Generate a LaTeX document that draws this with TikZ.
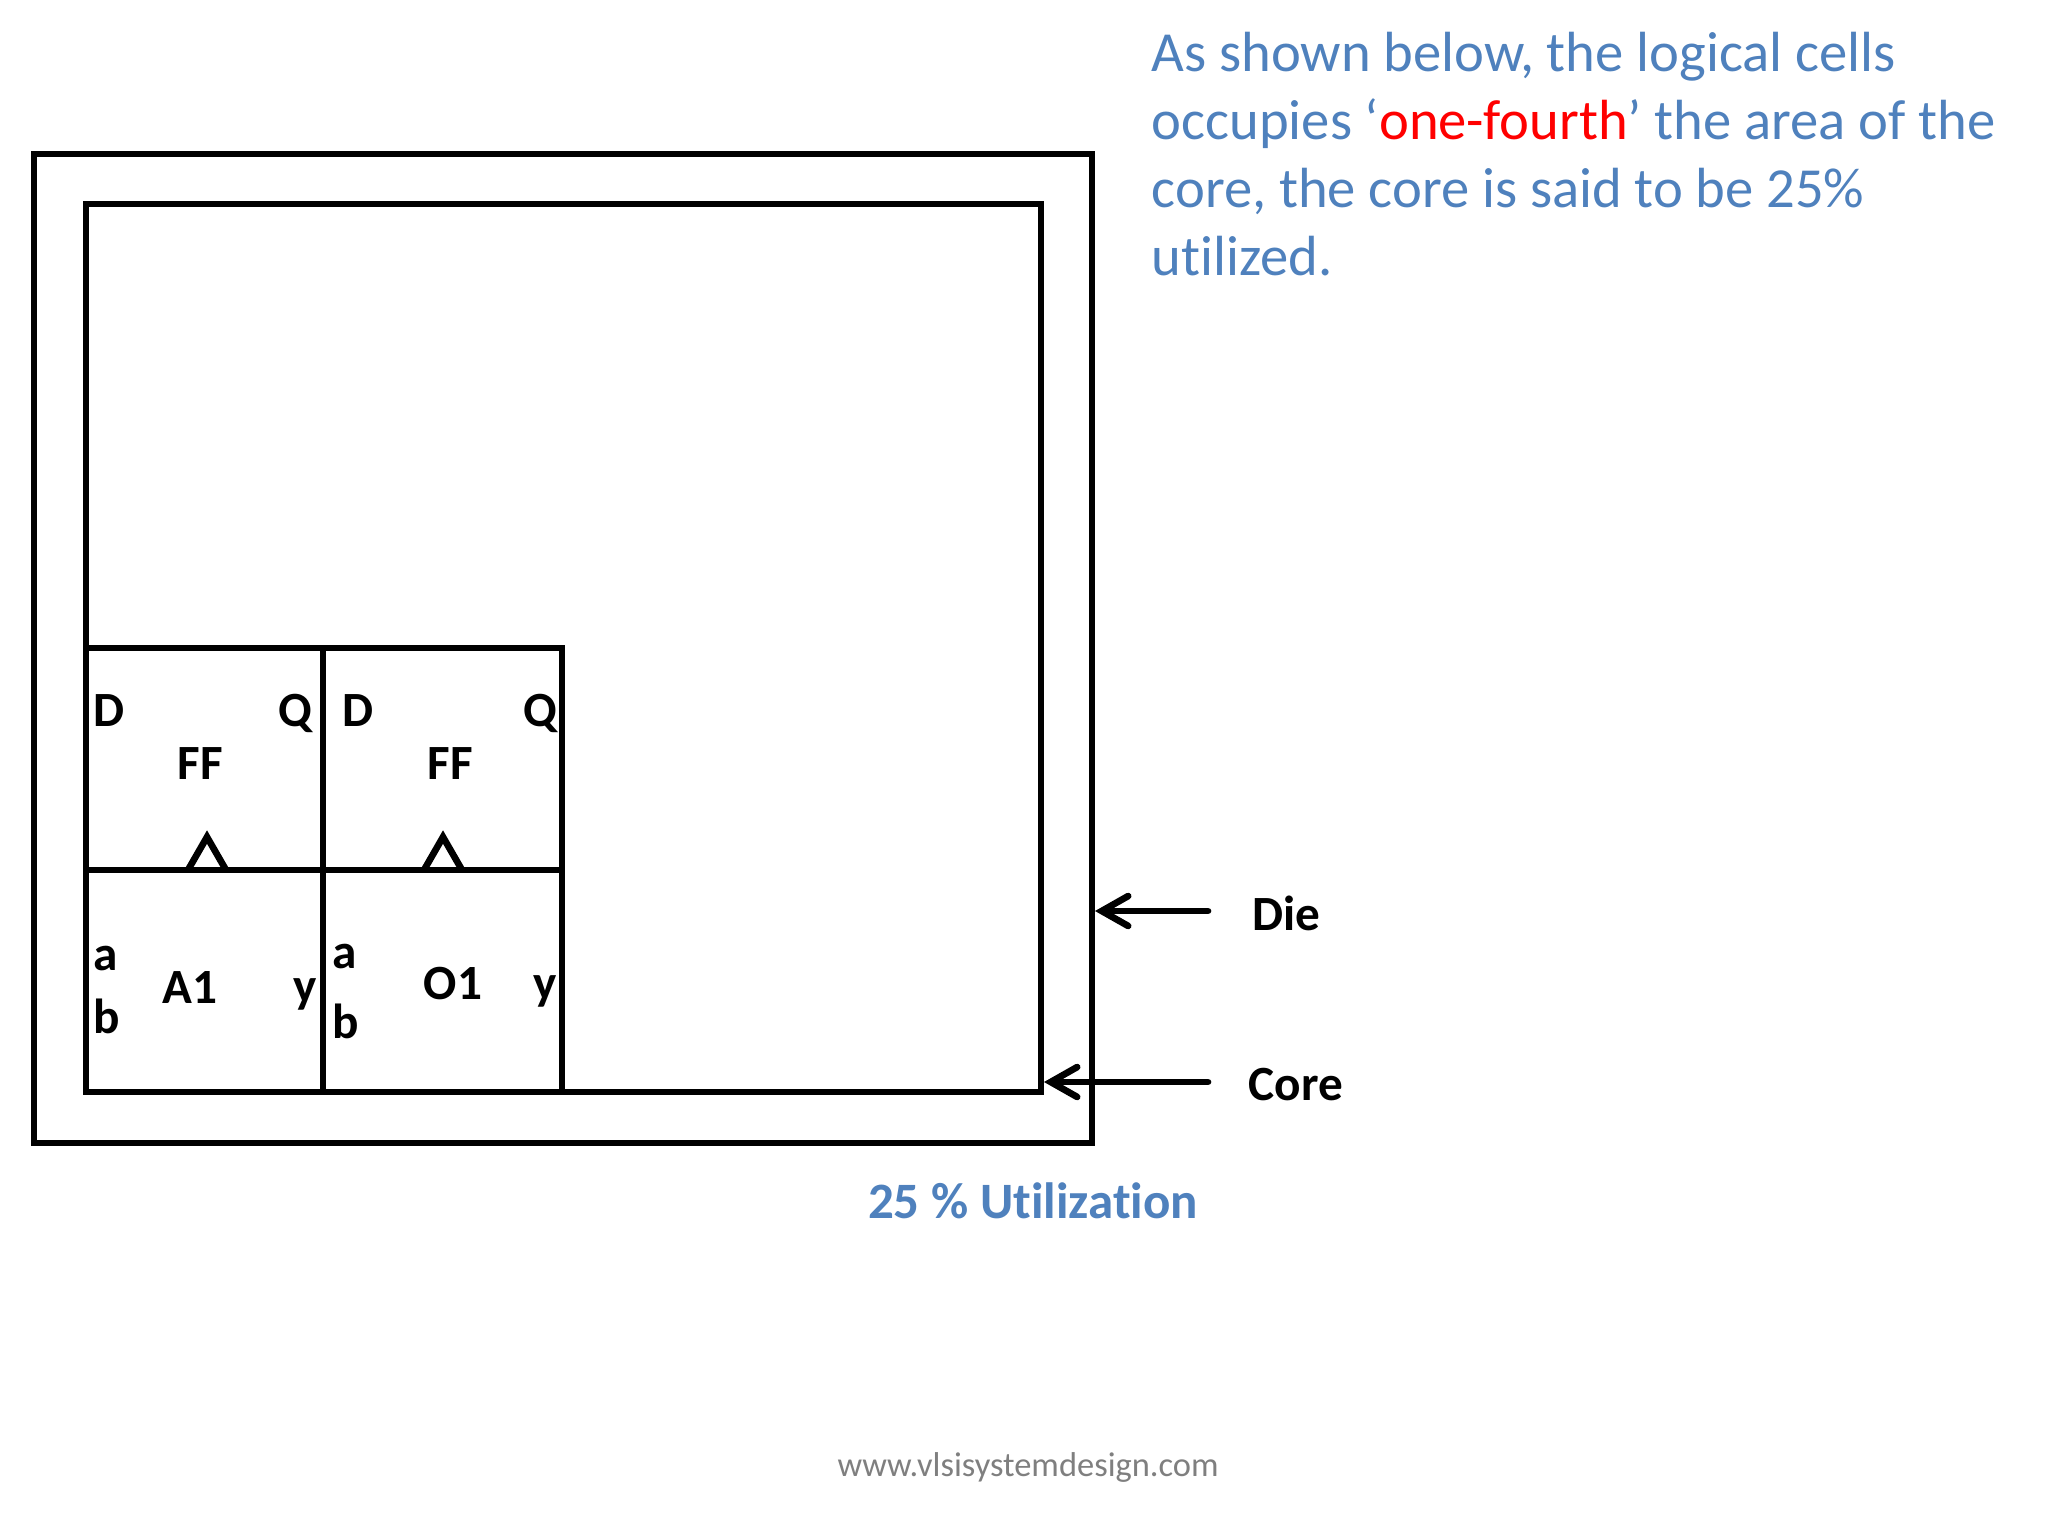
\documentclass[tikz,border=0pt]{standalone}
\usepackage{fontspec}
\setmainfont{Carlito}[RawFeature={-liga;-clig;-dlig;-calt}]
\usetikzlibrary{arrows.meta}
\definecolor{slideblue}{HTML}{4F81BD}
\definecolor{footgray}{HTML}{7F7F7F}
\tikzset{
  wall/.style={line width=1.9pt, line join=miter},
  pinlbl/.style={font=\fontsize{14}{16}\selectfont\bfseries, inner sep=0pt},
  pointer/.style={line width=1.9pt, line cap=round, -{Straight Barb[length=7.5pt,width=8.5pt,line cap=round]}},
}

\begin{document}
\begin{tikzpicture}[x=0.01cm,y=-0.01cm]
\useasboundingbox (0,0) rectangle (2048,1536);

% die and core
\draw[wall] (34,154) rectangle (1092,1143);
\draw[wall] (86,204) rectangle (1041,1092);

% cells
\draw[wall] (86,648) rectangle (323,870);
\draw[wall] (323,648) rectangle (562,870);
\draw[wall] (86,870) rectangle (323,1092);
\draw[wall] (323,870) rectangle (562,1092);
\draw[wall] (188,870) -- (207,837) -- (226,870);
\draw[wall] (424,870) -- (443,837) -- (462,870);

\node[pinlbl,anchor=base west] (d1) at (93,726) {D};
\node[pinlbl,anchor=base east] (q1) at (313,726) {Q};
\node[pinlbl,anchor=base] (ff1) at (200,779) {FF};
\node[pinlbl,anchor=base west] (d2) at (342,726) {D};
\node[pinlbl,anchor=base east] (q2) at (558,726) {Q};
\node[pinlbl,anchor=base] (ff2) at (450,779) {FF};

\node[pinlbl,anchor=base west] (a1in) at (93,970) {a};
\node[pinlbl,anchor=base west] (b1in) at (93,1033) {b};
\node[pinlbl,anchor=base] (and1) at (190,1003) {A1};
\node[pinlbl,anchor=base east] (y1out) at (318,1002) {y};
\node[pinlbl,anchor=base west] (a2in) at (332,968) {a};
\node[pinlbl,anchor=base west] (b2in) at (332,1038) {b};
\node[pinlbl,anchor=base] (or1) at (453,999) {O1};
\node[pinlbl,anchor=base east] (y2out) at (558,999) {y};

% die / core pointers
\node[pinlbl,anchor=base west] (die) at (1252,930) {Die};
\node[pinlbl,anchor=base west] (core) at (1248,1100) {Core};
\coordinate (dietail) at (1208,911);
\coordinate (diehead) at (1095,911);
\coordinate (coretail) at (1208,1082);
\coordinate (corehead) at (1044,1082);
\draw[pointer] (dietail) -- (diehead);
\draw[pointer] (coretail) -- (corehead);

% captions
\node[font=\fontsize{14.5}{17}\selectfont\bfseries,text=slideblue,anchor=base,inner sep=0pt] (util) at (1033,1218) {25 \% Utilization};
\node[font=\fontsize{9.8}{12}\selectfont,text=footgray,anchor=base west,inner sep=0pt] (site) at (837,1476) {www.vlsisystemdesign.com};
\node[font=\fontsize{16.1}{19.4}\selectfont,text=slideblue,anchor=north west,inner sep=0pt,align=left] (note) at (1151,31)
  {As shown below, the logical cells\\occupies ‘\textcolor{red}{one-fourth}’ the area of the\\core, the core is said to be 25\%\\utilized.};

\end{tikzpicture}
\end{document}
